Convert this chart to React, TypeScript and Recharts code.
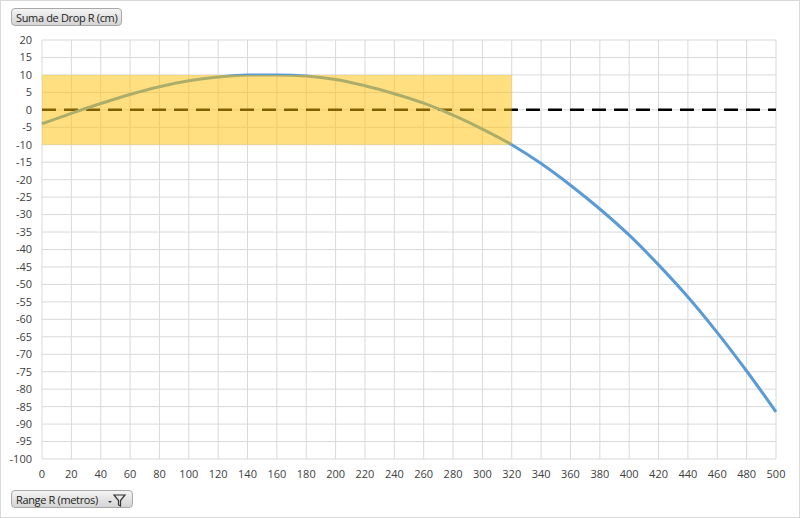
import {
  LineChart,
  Line,
  XAxis,
  YAxis,
  CartesianGrid,
  ReferenceLine,
  ReferenceArea,
} from 'recharts'

// distance in metres, drop in cm
const ranges = [0, 20, 40, 60, 80, 100, 120, 140, 160, 180, 200, 220, 240, 260, 280, 300, 320, 340, 360, 380, 400, 420, 440, 460, 480, 500]
const drops = [-4.0, -1.0, 1.8, 4.4, 6.6, 8.3, 9.4, 10.0, 10.0, 9.7, 8.7, 6.9, 4.6, 1.9, -1.5, -5.5, -10.0, -15.4, -21.6, -28.4, -35.9, -44.4, -53.6, -63.8, -74.8, -86.5]

const xTicks = [0, 20, 40, 60, 80, 100, 120, 140, 160, 180, 200, 220, 240, 260, 280, 300, 320, 340, 360, 380, 400, 420, 440, 460, 480, 500]
const yTicks = [20, 15, 10, 5, 0, -5, -10, -15, -20, -25, -30, -35, -40, -45, -50, -55, -60, -65, -70, -75, -80, -85, -90, -95, -100]

// kill zone band
const bandRange = [0, 320]
const bandDrop = [-10, 10]

const tickStyle = { fontSize: 11, fill: '#404040', fontFamily: 'Open Sans' }

const buttonStyle: React.CSSProperties = {
  position: 'absolute',
  height: 18,
  border: '1px solid #a8a8a8',
  borderRadius: 4,
  background: 'linear-gradient(#f4f4f4, #d4d4d4)',
  fontFamily: 'Open Sans',
  fontSize: 11,
  letterSpacing: -0.35,
  color: '#222',
  lineHeight: '18px',
  padding: '0 4px',
  boxSizing: 'border-box',
  whiteSpace: 'nowrap',
}

export default function App() {
  const data = ranges.map((r, i) => ({ range: r, drop: drops[i] }))

  return (
    <div
      style={{
        position: 'absolute',
        left: 0,
        top: 0,
        width: 800,
        height: 518,
        boxSizing: 'border-box',
        border: '1px solid #d9d9d9',
        background: '#fff',
      }}
    >
      <LineChart
        width={798}
        height={516}
        data={data}
        margin={{ top: 39, right: 23, left: 0, bottom: 0 }}
      >
        <CartesianGrid stroke="#d9d9d9" />
        <XAxis
          dataKey="range"
          type="number"
          domain={[0, 500]}
          ticks={xTicks}
          interval={0}
          tick={tickStyle}
          tickLine={false}
          axisLine={false}
          tickSize={0}
          tickMargin={11}
          height={58}
        />
        <YAxis
          type="number"
          domain={[-100, 20]}
          ticks={yTicks}
          interval={0}
          tick={tickStyle}
          tickLine={false}
          axisLine={false}
          tickSize={0}
          tickMargin={10}
          width={41}
        />
        <ReferenceLine
          y={0}
          stroke="#000"
          strokeWidth={2.5}
          strokeDasharray="14 8"
          zIndex={300}
        />
        <Line
          type="monotone"
          dataKey="drop"
          stroke="#5b9bd5"
          strokeWidth={3}
          dot={false}
          activeDot={false}
          isAnimationActive={false}
          zIndex={400}
        />
        <ReferenceArea
          x1={bandRange[0]}
          x2={bandRange[1]}
          y1={bandDrop[0]}
          y2={bandDrop[1]}
          fill="#ffc000"
          fillOpacity={0.5}
          stroke="none"
          zIndex={500}
        />
      </LineChart>
      <div style={{ ...buttonStyle, left: 10, top: 7 }}>Suma de Drop R (cm)</div>
      <div style={{ ...buttonStyle, left: 10, top: 489, paddingRight: 34 }}>
        Range R (metros)
        <svg width="24" height="16" style={{ position: 'absolute', right: 3, top: 1 }}>
          <path d="M3 9 L7 9 L5 11 Z" fill="#333" />
          <path d="M9 3 L20 3 L15.5 8.5 L15.5 14 L13.5 13 L13.5 8.5 Z" fill="none" stroke="#333" strokeWidth={1.2} />
        </svg>
      </div>
    </div>
  )
}
